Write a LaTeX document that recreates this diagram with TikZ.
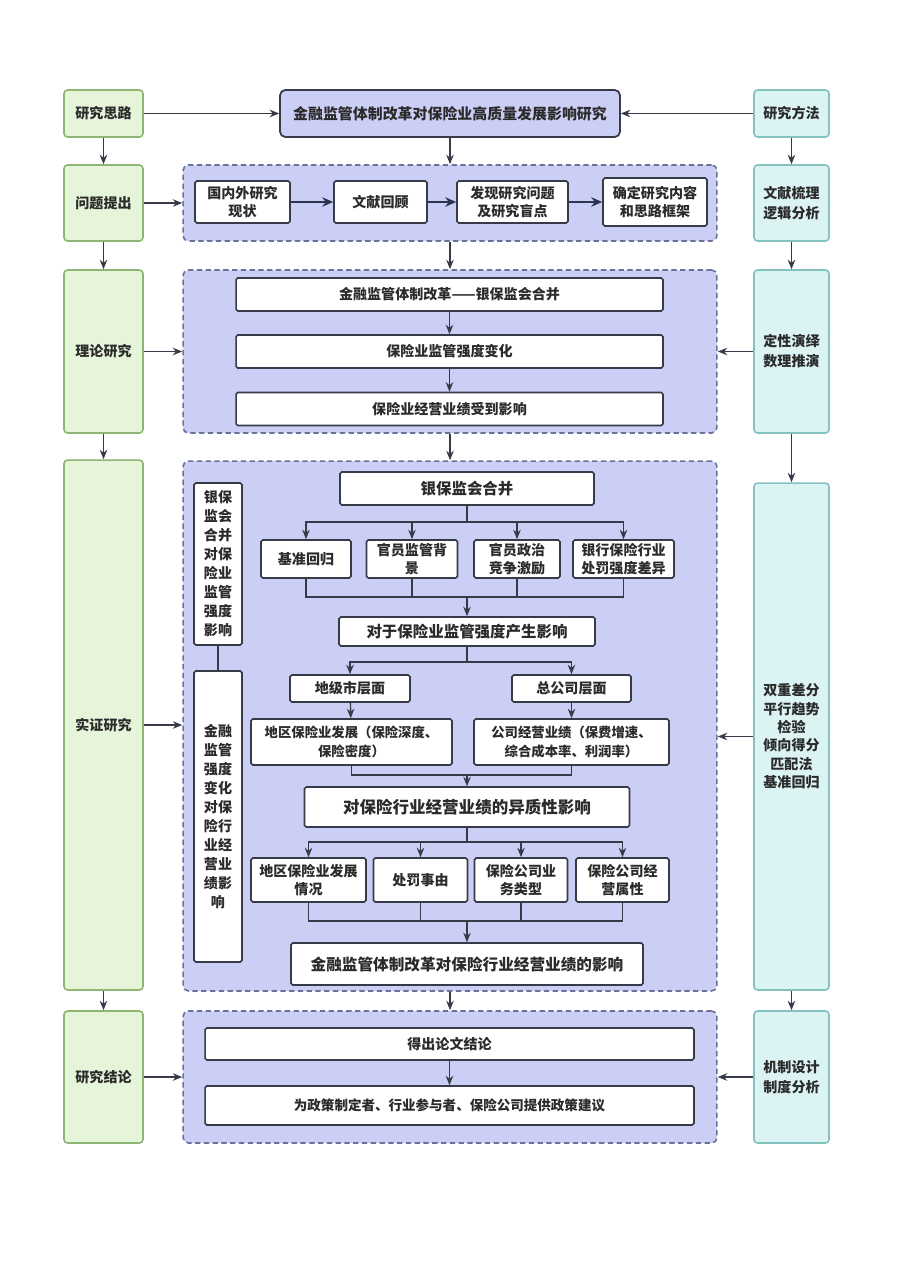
\documentclass[tikz,border=0pt]{standalone}
\usepackage{fontspec}
\setmainfont{Noto Sans CJK SC}
\usepackage{tikz}
\usetikzlibrary{arrows.meta,positioning}
\definecolor{Ink}{HTML}{363B47}
\definecolor{Navy}{HTML}{2A3550}
\definecolor{Text}{HTML}{2B2B2B}
\definecolor{Leaf}{HTML}{E6F4DA}
\definecolor{LeafLine}{HTML}{8DB674}
\definecolor{Aqua}{HTML}{DCF3F3}
\definecolor{AquaLine}{HTML}{84C1C1}
\definecolor{Group}{HTML}{CBCFF5}
\definecolor{GroupLine}{HTML}{6A7299}
\tikzset{
  arr/.style={-{Stealth[length=1.9mm,width=1.5mm]},line width=0.8pt,draw=Ink},
  link/.style={line width=0.8pt,draw=Ink},
  boldarr/.style={-{Stealth[length=2.2mm,width=1.9mm]},line width=1.4pt,draw=Navy},
  txt/.style={align=center,text=Text,font=\bfseries\fontsize{8}{10.5}\selectfont,inner sep=1pt},
  sidebox/.style={txt,draw=LeafLine,fill=Leaf,rounded corners=2pt,line width=0.9pt,minimum width=1.58cm},
  methodbox/.style={txt,draw=AquaLine,fill=Aqua,rounded corners=2pt,line width=0.9pt,minimum width=1.5cm},
  groupbox/.style={draw=GroupLine,fill=Group,dash pattern=on 3pt off 2pt,rounded corners=3pt,line width=0.9pt,minimum width=10.68cm},
  stepbox/.style={txt,draw=Ink,fill=white,line width=0.9pt,rounded corners=1pt},
  titlebox/.style={txt,draw=Ink,fill=Group,rounded corners=3pt,line width=1pt,font=\bfseries\fontsize{8.5}{10}\selectfont}
}
\begin{document}
\begin{tikzpicture}[x=0.02cm,y=-0.02cm]
  \useasboundingbox (0,0) rectangle (905,1280);
  % left column: research path
  \node[sidebox,minimum height=0.94cm] (thinkL) at (103.5,113.5) {研究思路};
  \node[sidebox,minimum height=1.52cm] (askL) at (103.5,203) {问题提出};
  \node[sidebox,minimum height=3.26cm] (theoL) at (103.5,351.5) {理论研究};
  \node[sidebox,minimum height=10.6cm] (empL) at (103.5,725) {实证研究};
  \node[sidebox,minimum height=2.64cm] (concL) at (103.5,1077) {研究结论};
  % right column: methods
  \node[methodbox,minimum height=0.94cm] (methodR) at (791.5,113.5) {研究方法};
  \node[methodbox,minimum height=1.52cm,font=\bfseries\fontsize{8}{11.5}\selectfont] (litR) at (791.5,203) {文献梳理\\逻辑分析};
  \node[methodbox,minimum height=3.26cm,font=\bfseries\fontsize{8}{11.5}\selectfont] (qualR) at (791.5,351.5) {定性演绎\\数理推演};
  \node[methodbox,minimum height=10.14cm] (didR) at (791.5,736.5) {双重差分\\平行趋势\\检验\\倾向得分\\匹配法\\基准回归};
  \node[methodbox,minimum height=2.64cm,font=\bfseries\fontsize{8}{11.5}\selectfont] (mechR) at (791.5,1077) {机制设计\\制度分析};
  % title
  \node[titlebox,minimum width=6.8cm,minimum height=0.94cm] (title) at (450,113.5) {金融监管体制改革对保险业高质量发展影响研究};
  % dashed groups
  \node[groupbox,minimum height=1.52cm] (g2) at (450,203) {};
  \node[groupbox,minimum height=3.26cm] (g3) at (450,351.5) {};
  \node[groupbox,minimum height=10.6cm] (g4) at (450,726) {};
  \node[groupbox,minimum height=2.64cm] (g5) at (450,1077) {};
  % group 2
  \node[stepbox,minimum width=1.9cm,minimum height=0.84cm] (lit1) at (242.5,202) {国内外研究\\现状};
  \node[stepbox,minimum width=1.86cm,minimum height=0.84cm] (lit2) at (380.5,202) {文献回顾};
  \node[stepbox,minimum width=2.22cm,minimum height=0.84cm] (lit3) at (512.5,202) {发现研究问题\\及研究盲点};
  \node[stepbox,minimum width=2.08cm,minimum height=0.96cm] (lit4) at (655,202) {确定研究内容\\和思路框架};
  \draw[boldarr] (lit1)--(lit2);\draw[boldarr] (lit2)--(lit3);\draw[boldarr] (lit3)--(lit4);
  % group 3
  \node[stepbox,minimum width=8.54cm,minimum height=0.66cm] (th1) at (449.5,294.5) {金融监管体制改革——银保监会合并};
  \node[stepbox,minimum width=8.54cm,minimum height=0.66cm] (th2) at (449.5,351.5) {保险业监管强度变化};
  \node[stepbox,minimum width=8.54cm,minimum height=0.66cm] (th3) at (449.5,409) {保险业经营业绩受到影响};
  \draw[arr] (th1)--(th2);\draw[arr] (th2)--(th3);
  % group 4
  \node[stepbox,minimum width=0.96cm,minimum height=3.24cm,font=\bfseries\fontsize{8}{10.8}\selectfont] (vert1) at (218,564) {银保\\监会\\合并\\对保\\险业\\监管\\强度\\影响};
  \node[stepbox,minimum width=0.96cm,minimum height=5.82cm,font=\bfseries\fontsize{8}{10.8}\selectfont] (vert2) at (218,816.5) {金融\\监管\\强度\\变化\\对保\\险行\\业经\\营业\\绩影\\响};
  \draw[link] (vert1)--(vert2);
  \node[stepbox,minimum width=5.08cm,minimum height=0.66cm,font=\bfseries\fontsize{8.8}{10}\selectfont] (merge) at (467,488.5) {银保监会合并};
  \node[stepbox,minimum width=1.8cm,minimum height=0.76cm] (b1) at (306,559) {基准回归};
  \node[stepbox,minimum width=1.82cm,minimum height=0.76cm] (b2) at (412,559) {官员监管背\\景};
  \node[stepbox,minimum width=1.72cm,minimum height=0.76cm] (b3) at (517,559) {官员政治\\竞争激励};
  \node[stepbox,minimum width=2.02cm,minimum height=0.76cm] (b4) at (623.5,559) {银行保险行业\\处罚强度差异};
  \node[stepbox,minimum width=5.12cm,minimum height=0.58cm,font=\bfseries\fontsize{8.8}{10}\selectfont] (impact) at (467,631.5) {对于保险业监管强度产生影响};
  \node[stepbox,minimum width=2.4cm,minimum height=0.54cm] (city) at (350,688.5) {地级市层面};
  \node[stepbox,minimum width=2.38cm,minimum height=0.54cm] (hq) at (571.5,688.5) {总公司层面};
  \node[stepbox,minimum width=4.02cm,minimum height=0.92cm,font=\bfseries\fontsize{7.6}{10.5}\selectfont] (regdev) at (351.5,742) {地区保险业发展（保险深度、\\保险密度）};
  \node[stepbox,minimum width=3.9cm,minimum height=0.92cm,font=\bfseries\fontsize{7.6}{10.5}\selectfont] (perf) at (571.5,742) {公司经营业绩（保费增速、\\综合成本率、利润率）};
  \node[stepbox,minimum width=6.5cm,minimum height=0.8cm,font=\bfseries\fontsize{9.4}{10}\selectfont] (hetero) at (467,807) {对保险行业经营业绩的异质性影响};
  \node[stepbox,minimum width=2.3cm,minimum height=0.88cm] (c1) at (308.5,880) {地区保险业发展\\情况};
  \node[stepbox,minimum width=1.88cm,minimum height=0.88cm] (c2) at (420.5,880) {处罚事由};
  \node[stepbox,minimum width=1.86cm,minimum height=0.88cm] (c3) at (521,880) {保险公司业\\务类型};
  \node[stepbox,minimum width=1.86cm,minimum height=0.88cm] (c4) at (622.5,880) {保险公司经\\营属性};
  \node[stepbox,minimum width=7.04cm,minimum height=0.84cm,font=\bfseries\fontsize{8.9}{10}\selectfont] (final) at (467,964) {金融监管体制改革对保险行业经营业绩的影响};
  \coordinate (br1) at (467,522);\coordinate (mg1) at (467,597);
  \coordinate (br2) at (467,662);\coordinate (mg2) at (467,775);
  \coordinate (br3) at (467,842);\coordinate (mg3) at (467,921);
  \draw[link] (merge.south)--(br1);
  \foreach \n in {b1,b2,b3,b4} {\draw[arr] (br1) -| (\n.north); \draw[link] (\n.south) |- (mg1);}
  \draw[arr] (mg1)--(impact.north);
  \draw[link] (impact.south)--(br2);
  \draw[arr] (br2) -| (city.north);\draw[arr] (br2) -| (hq.north);
  \draw[arr] (city)--(regdev);\draw[arr] (hq)--(perf);
  \draw[link] (regdev.south) |- (mg2);\draw[link] (perf.south) |- (mg2);
  \draw[arr] (mg2)--(hetero.north);
  \draw[link] (hetero.south)--(br3);
  \foreach \n in {c1,c2,c3,c4} {\draw[arr] (br3) -| (\n.north); \draw[link] (\n.south) |- (mg3);}
  \draw[arr] (mg3)--(final.north);
  % group 5
  \node[stepbox,minimum width=9.78cm,minimum height=0.64cm] (res1) at (449.5,1044) {得出论文结论};
  \node[stepbox,minimum width=9.78cm,minimum height=0.78cm,font=\bfseries\fontsize{7.7}{10}\selectfont] (res2) at (449.5,1105.5) {为政策制定者、行业参与者、保险公司提供政策建议};
  \draw[arr] (res1)--(res2);
  % frame connectors
  \draw[arr] (thinkL)--(title);\draw[arr] (methodR)--(title);
  \draw[arr] (title)--(g2);\draw[arr] (g2)--(g3);\draw[arr] (g3)--(g4);\draw[arr] (g4)--(g5);
  \draw[arr] (thinkL)--(askL);\draw[arr] (askL)--(theoL);\draw[arr] (theoL)--(empL);\draw[arr] (empL)--(concL);
  \draw[arr] (methodR)--(litR);\draw[arr] (litR)--(qualR);\draw[arr] (qualR)--(didR);\draw[arr] (didR)--(mechR);
  \draw[arr] (askL.east)--(askL.east -| g2.west);
  \draw[arr] (theoL.east)--(theoL.east -| g3.west);
  \draw[arr] (empL.east)--(empL.east -| g4.west);
  \draw[arr] (concL.east)--(concL.east -| g5.west);
  \draw[arr] (qualR.west)--(qualR.west -| g3.east);
  \draw[arr] (didR.west)--(didR.west -| g4.east);
  \draw[arr] (mechR.west)--(mechR.west -| g5.east);
\end{tikzpicture}
\end{document}
